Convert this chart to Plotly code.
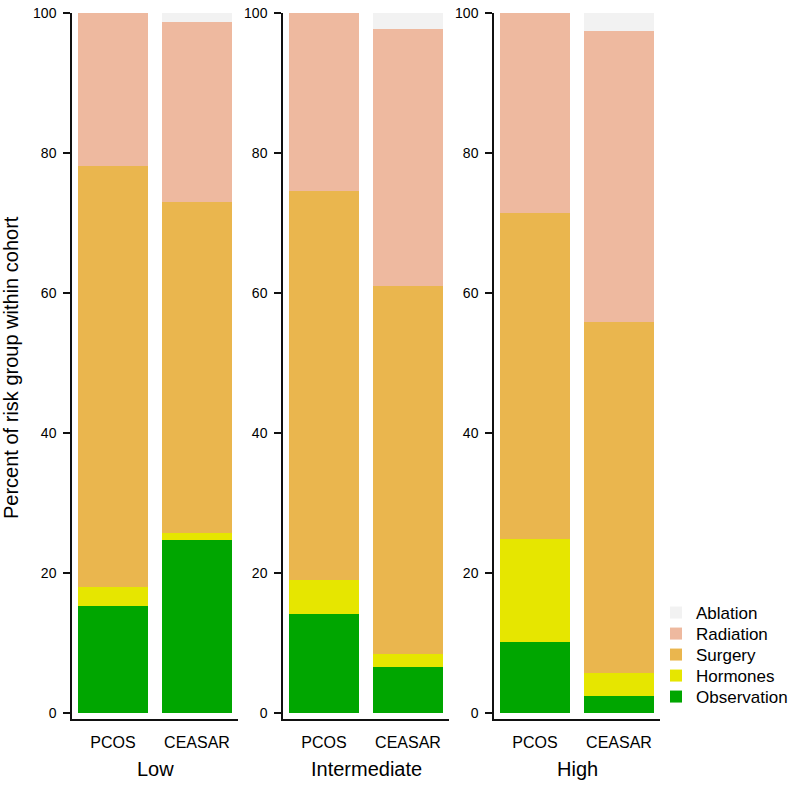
import plotly.graph_objects as go

groups = ["Low", "Intermediate", "High"]
cohorts = ["PCOS", "CEASAR"]
treatments = ["Observation", "Hormones", "Surgery", "Radiation", "Ablation"]
colors = ["#00A600", "#E6E600", "#EAB64E", "#EEB99F", "#F2F2F2"]

# segment sizes per group [PCOS, CEASAR]
observation = {"Low": [15.3, 24.7], "Intermediate": [14.2, 6.6], "High": [10.1, 2.5]}
hormones = {"Low": [2.7, 1.0], "Intermediate": [4.8, 1.8], "High": [14.8, 3.2]}
surgery = {"Low": [60.1, 47.3], "Intermediate": [55.6, 52.6], "High": [46.5, 50.1]}
radiation = {"Low": [21.9, 25.7], "Intermediate": [25.4, 36.7], "High": [28.6, 41.6]}
ablation = {"Low": [0.0, 1.3], "Intermediate": [0.0, 2.3], "High": [0.0, 2.6]}
series = [observation, hormones, surgery, radiation, ablation]

y_ticks = [0, 20, 40, 60, 80, 100]

W, H = 800, 790
top_px, bottom_px = 13, 719            # pixel rows of plot area
domains_px = [(72, 238), (283, 449), (494, 660)]


def px_x(p):
    return p / W


def px_y(p):
    return (bottom_px - p) / (bottom_px - top_px)


fig = go.Figure()
font = "Liberation Sans, Arial, Helvetica, sans-serif"

legend_rows = {"Ablation": 613, "Radiation": 634, "Surgery": 655, "Hormones": 676, "Observation": 697}
legend_ids = {t: ("legend" if i == 0 else f"legend{i+1}") for i, t in enumerate(treatments)}

for gi, g in enumerate(groups):
    xa = "x" if gi == 0 else f"x{gi+1}"
    ya = "y" if gi == 0 else f"y{gi+1}"
    for ti, t in enumerate(treatments):
        fig.add_trace(go.Bar(
            x=cohorts, y=series[ti][g], name=t,
            marker=dict(color=colors[ti], line=dict(width=0)),
            xaxis=xa, yaxis=ya, legendgroup=t, showlegend=(gi == 0),
            legend=legend_ids[t], hoverinfo="name+y",
        ))

layout = dict(
    width=W, height=H,
    margin=dict(l=0, r=0, t=top_px, b=H - bottom_px, pad=0),
    paper_bgcolor="white", plot_bgcolor="white",
    barmode="stack", bargap=1 - 1 / 1.2,
    font=dict(family=font, color="#000000"),
    showlegend=True,
)

for t in treatments:
    layout[legend_ids[t]] = dict(
        x=px_x(656), xanchor="left", y=px_y(legend_rows[t]), yanchor="middle",
        font=dict(size=17, family=font, color="#000000"), bgcolor="rgba(0,0,0,0)",
        borderwidth=0, itemclick=False, itemdoubleclick=False,
    )

for gi, (a, b) in enumerate(domains_px):
    sfx = "" if gi == 0 else str(gi + 1)
    layout[f"xaxis{sfx}"] = dict(
        domain=[px_x(a), px_x(b)], range=[-0.488, 1.488], type="category",
        showline=True, linecolor="#111111", linewidth=1.5,
        ticks="outside", ticklen=8, tickcolor="rgba(0,0,0,0)",
        tickfont=dict(size=16, family=font, color="#000000"),
        showgrid=False, zeroline=False, fixedrange=True,
    )
    layout[f"yaxis{sfx}"] = dict(
        domain=[0, 1], range=[-6 / 7, 100], anchor=f"x{sfx}",
        tickvals=y_ticks, ticktext=[str(v) for v in y_ticks],
        showline=True, linecolor="#111111", linewidth=1.5,
        ticks="outside", ticklen=7, tickwidth=1.5, tickcolor="#111111",
        tickfont=dict(size=14, family=font, color="#000000"), ticklabelstandoff=4,
        ticklabeloverflow="allow",
        showgrid=False, zeroline=False, fixedrange=True,
    )
    if gi > 0:
        layout[f"xaxis{sfx}"]["anchor"] = f"y{sfx}"

fig.update_layout(**layout)

for gi, g in enumerate(groups):
    sfx = "" if gi == 0 else str(gi + 1)
    fig.add_annotation(
        text=g, xref=f"x{sfx} domain", yref="paper", x=0.5,
        y=px_y(769), xanchor="center", yanchor="middle",
        showarrow=False, font=dict(size=20, family=font, color="#000000"),
    )

fig.add_annotation(
    text="Percent of risk group within cohort", xref="paper", yref="paper",
    x=px_x(11), y=px_y(368), xanchor="center", yanchor="middle",
    textangle=-90, showarrow=False, font=dict(size=20, family=font, color="#000000"),
)

fig.write_html(
    "out.html",
    config={"displayModeBar": False},
    post_script="document.body.style.margin='0';document.body.style.overflow='hidden';",
)
